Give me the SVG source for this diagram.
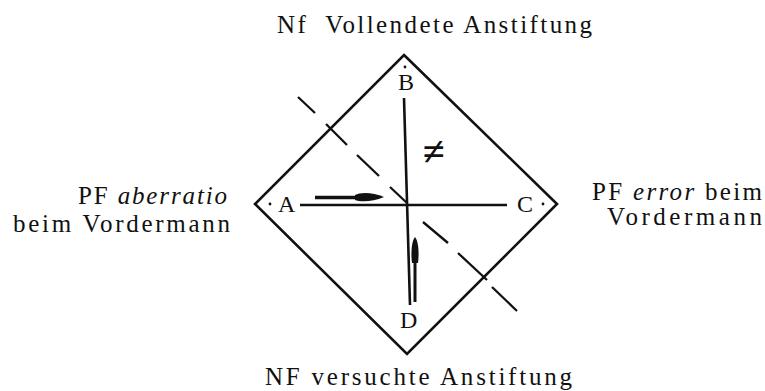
<svg xmlns="http://www.w3.org/2000/svg" width="765" height="391" viewBox="0 0 765 391">
<style>
text{font-family:'Liberation Serif','Times New Roman',serif;fill:#111}
.t{font-size:25px}
.l{font-size:24px}
.ln{stroke:#111;stroke-width:2.6;fill:none}
.ds{stroke:#111;stroke-width:2.3;fill:none}
</style>
<rect width="765" height="391" fill="#fff"/>
<g id="diamond">
<polygon class="ln" points="404,55 557,204 407,354 255,204"/>
</g>
<g id="connectors">
<line class="ln" x1="300" y1="205" x2="507" y2="205"/>
<line class="ln" x1="404" y1="98" x2="410" y2="305"/>
<g id="dashed">
<line class="ds" x1="298" y1="97" x2="315" y2="113"/>
<line class="ds" x1="326" y1="124" x2="347" y2="145"/>
<line class="ds" x1="357" y1="155" x2="379" y2="176"/>
<line class="ds" x1="390" y1="187" x2="407" y2="203"/>
<line class="ds" x1="423" y1="222" x2="448" y2="243"/>
<line class="ds" x1="458" y1="253" x2="487" y2="280"/>
<line class="ds" x1="492" y1="287" x2="517" y2="311"/>
</g>
<g id="arrowA">
<line x1="315" y1="197.5" x2="362" y2="197.5" stroke="#111" stroke-width="3.6"/>
<path d="M355,195 C360,192 373,192 384,197 C373,202 360,202 355,200 Z" fill="#111"/>
</g>
<g id="arrowD">
<line x1="415" y1="250" x2="415" y2="302" stroke="#111" stroke-width="3"/>
<path d="M415,237 C419,242 419,255 418,263 L412,263 C411,255 411,242 415,237 Z" fill="#111"/>
</g>
</g>
<g id="nodeB"><circle cx="405" cy="67" r="1.4" fill="#111"/><text class="l" x="398" y="90">B</text></g>
<g id="nodeA"><circle cx="270" cy="204" r="1.4" fill="#111"/><text class="l" x="278" y="212">A</text></g>
<g id="nodeC"><circle cx="543" cy="204" r="1.4" fill="#111"/><text class="l" x="517" y="212">C</text></g>
<g id="nodeD"><text class="l" x="400" y="328">D</text></g>
<g id="neq"><text x="434" y="165" text-anchor="middle" font-size="40" font-weight="bold">≠</text></g>
<g id="top"><text class="t" x="277" y="33" textLength="315" lengthAdjust="spacing" xml:space="preserve">Nf  Vollendete Anstiftung</text></g>
<g id="bottom"><text class="t" x="265" y="385" textLength="307" lengthAdjust="spacing">NF versuchte Anstiftung</text></g>
<g id="left">
<text class="t" x="78" y="204" textLength="149" lengthAdjust="spacing">PF <tspan font-style="italic">aberratio</tspan></text>
<text class="t" x="13" y="232" textLength="217" lengthAdjust="spacing">beim Vordermann</text>
</g>
<g id="right">
<text class="t" x="592" y="200" textLength="170" lengthAdjust="spacing">PF <tspan font-style="italic">error</tspan> beim</text>
<text class="t" x="607" y="225" textLength="155" lengthAdjust="spacing">Vordermann</text>
</g>
</svg>
